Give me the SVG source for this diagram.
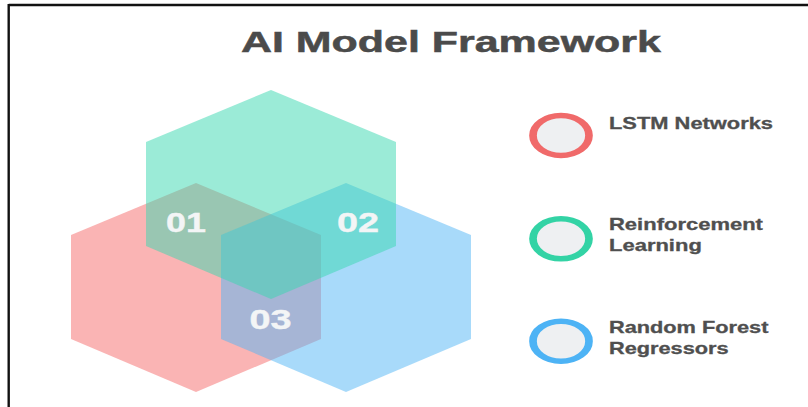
<svg xmlns="http://www.w3.org/2000/svg" width="808" height="407" viewBox="0 0 808 407">
  <style>
    .hex { fill-opacity: 0.5; stroke: none; }
    .num { font-family: "Liberation Sans", Arial, sans-serif; font-weight: 700; font-size: 27px; fill: #F3F5F6; stroke: #F3F5F6; stroke-width: 0.4; text-anchor: middle; }
    .title { font-family: "Liberation Sans", Arial, sans-serif; font-weight: 700; font-size: 29.5px; fill: #4B4B4B; stroke: #4B4B4B; stroke-width: 0.5; }
    .lbl { font-family: "Liberation Sans", Arial, sans-serif; font-weight: 700; font-size: 16px; fill: #4F4F4F; stroke: #4F4F4F; stroke-width: 0.3; }
    .ring { fill: #EEF0F2; stroke-width: 5.5; }
  </style>
  <rect x="0" y="0" width="808" height="407" fill="#FFFFFF"/>
  <g id="frame" fill="none" stroke="#111111" stroke-width="2.4">
    <line x1="8.7" y1="5" x2="808" y2="5"/>
    <line x1="8.7" y1="4" x2="8.7" y2="407"/>
  </g>
  <text id="title" class="title" transform="translate(241,52) scale(1.456,1)" x="0" y="0">AI Model Framework</text>

  <g id="hex-red">
    <polygon class="hex" fill="#F56969" points="196,183 321,235 321,339 196,392 71,339 71,235"/>
  </g>
  <g id="hex-blue">
    <polygon class="hex" fill="#51B5F5" points="346,183 471,235 471,339 346,392 221,339 221,235"/>
  </g>
  <g id="hex-green">
    <polygon class="hex" fill="#37D7AF" points="271,90 396,142 396,246 271,299 146,246 146,142"/>
  </g>
  <g id="labels">
    <text id="n01" class="num" transform="translate(186,232) scale(1.33,1)" x="0" y="0">01</text>
    <text id="n02" class="num" transform="translate(358,232) scale(1.4,1)" x="0" y="0">02</text>
    <text id="n03" class="num" transform="translate(270.5,329) scale(1.4,1)" x="0" y="0">03</text>
  </g>
  <g id="connectors"/>

  <g id="legend-lstm">
    <ellipse class="ring" stroke="#F06A6A" transform="translate(561,135.5) scale(1.4,1)" cx="0" cy="0" rx="20" ry="20"/>
    <text class="lbl" transform="translate(609,128.7) scale(1.367,1)" x="0" y="0">LSTM Networks</text>
  </g>
  <g id="legend-rl">
    <ellipse class="ring" stroke="#33D3A5" transform="translate(561,238.8) scale(1.4,1)" cx="0" cy="0" rx="20" ry="20"/>
    <text class="lbl" transform="translate(609,230) scale(1.375,1)" x="0" y="0">Reinforcement</text>
    <text class="lbl" transform="translate(609,251) scale(1.375,1)" x="0" y="0">Learning</text>
  </g>
  <g id="legend-rf">
    <ellipse class="ring" stroke="#4DB3F5" transform="translate(561,341.2) scale(1.4,1)" cx="0" cy="0" rx="20" ry="20"/>
    <text class="lbl" transform="translate(609,332.7) scale(1.36,1)" x="0" y="0">Random Forest</text>
    <text class="lbl" transform="translate(609,353.5) scale(1.36,1)" x="0" y="0">Regressors</text>
  </g>
</svg>
